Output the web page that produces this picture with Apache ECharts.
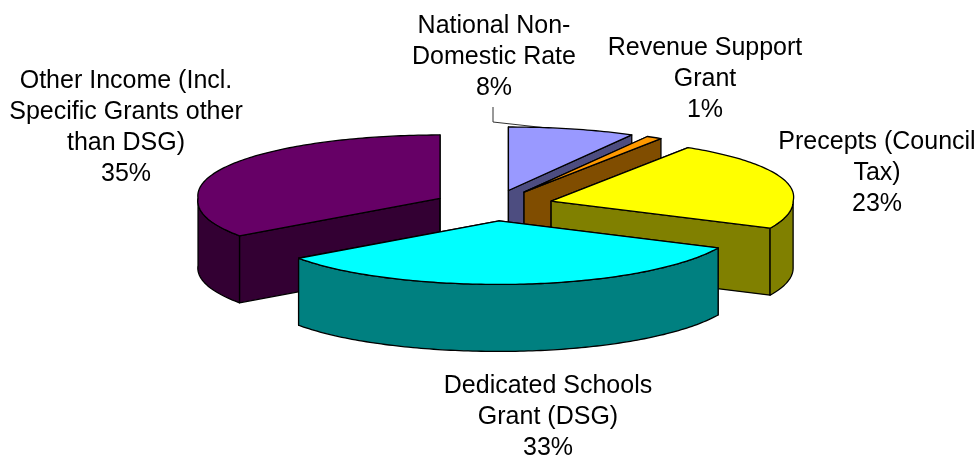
<!DOCTYPE html>
<html>
<head>
<meta charset="utf-8">
<title>Income pie</title>
<script src="https://cdn.jsdelivr.net/npm/echarts@6/dist/echarts.min.js"></script>
<style>
  html, body { margin: 0; padding: 0; background: #fff; }
  #main { width: 976px; height: 456px; }
</style>
</head>
<body>
<div id="main"></div>
<script type="text/javascript">
// slices, clockwise from 12 o'clock
var categories = [
    'National Non-\nDomestic Rate',
    'Revenue Support\nGrant',
    'Precepts (Council\nTax)',
    'Dedicated Schools\nGrant (DSG)',
    'Other Income (Incl.\nSpecific Grants other\nthan DSG)'
];
var values = [8, 1, 23, 33, 35];
var topColors = ['#9999FF', '#FF9900', '#FFFF00', '#00FFFF', '#660066'];
var sideColors = ['#4D4D80', '#804D00', '#808000', '#008080', '#330033'];
// back slices first so the front ones paint over them
var drawOrder = [4, 0, 1, 2, 3];

// pie geometry
var cx = 493.5, cy = 205.5, rx = 242, ry = 63.5, depth = 67;
var explodeX = 60, explodeY = 15.5;
// the original 3D view widens the back right and the left of the pie a little
var widenBackRight = 16, widenLeft = 10;

// label centres, one per slice
var labelPos = [[494, 57], [705, 79], [877, 173], [548, 417], [126, 128]];

var total = values.reduce(function (a, b) { return a + b; }, 0);

function sliceAngles(i) {
    var before = 0;
    for (var k = 0; k < i; k++) before += values[k];
    return [before / total * Math.PI * 2, (before + values[i]) / total * Math.PI * 2];
}

function renderSlice(params, api) {
    var i = api.value(0);
    var a = sliceAngles(i);
    var mid = (a[0] + a[1]) / 2;
    var ox = cx + explodeX * Math.sin(mid);
    var oy = cy - explodeY * Math.cos(mid);

    function rim(t, drop) {
        var s = Math.sin(t), c = Math.cos(t);
        var widen = s < 0 ? widenLeft : (c > 0 ? widenBackRight : 0);
        return [
            ox + rx * s + widen * s * Math.abs(c),
            oy - ry * c + (drop || 0)
        ];
    }
    function arc(from, to, drop) {
        var pts = [];
        var n = Math.max(2, Math.ceil((to - from) / (Math.PI / 180)));
        for (var k = 0; k <= n; k++) pts.push(rim(from + (to - from) * k / n, drop));
        return pts;
    }
    function poly(points, fill) {
        return {
            type: 'polygon',
            shape: { points: points },
            style: { fill: fill, stroke: '#000', lineWidth: 1.3, lineJoin: 'round' }
        };
    }

    var side = sideColors[i];
    var children = [];
    // cut faces
    a.forEach(function (t) {
        children.push(poly([[ox, oy], rim(t), rim(t, depth), [ox, oy + depth]], side));
    });
    // outer wall, only the part that faces the viewer
    var from = Math.max(a[0], Math.PI / 2);
    var to = Math.min(a[1], Math.PI * 1.5);
    if (to > from) {
        children.push(poly(arc(from, to, 0).concat(arc(from, to, depth).reverse()), side));
    }
    // top
    children.push(poly([[ox, oy]].concat(arc(a[0], a[1], 0)), topColors[i]));

    return { type: 'group', children: children };
}

var labels = categories.map(function (name, i) {
    return {
        type: 'text',
        x: labelPos[i][0],
        y: labelPos[i][1],
        style: {
            text: name + '\n' + values[i] + '%',
            font: '25px "Liberation Sans", Arial, sans-serif',
            lineHeight: 31,
            fill: '#000',
            align: 'center',
            verticalAlign: 'middle'
        }
    };
});
labels.push({
    type: 'polyline',
    shape: { points: [[493, 107], [493, 122], [547, 128]] },
    style: { stroke: '#333', lineWidth: 1, fill: null }
});

var myChart = echarts.init(document.getElementById('main'));
var option = {
    animation: false,
    backgroundColor: '#fff',
    graphic: { elements: labels },
    series: [{
        type: 'custom',
        coordinateSystem: 'none',
        silent: true,
        clip: false,
        renderItem: renderSlice,
        data: drawOrder.map(function (i) { return [i]; })
    }]
};
myChart.setOption(option);
</script>
</body>
</html>
